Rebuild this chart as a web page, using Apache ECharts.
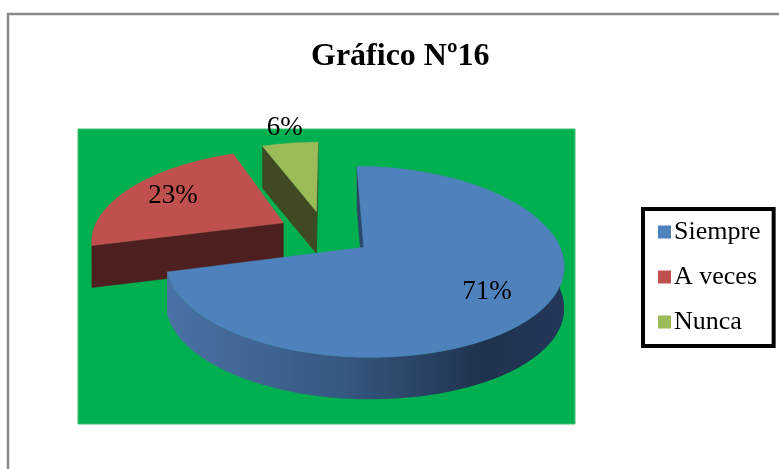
<!DOCTYPE html>
<html>
<head>
<meta charset="utf-8">
<script src="https://cdn.jsdelivr.net/npm/echarts@6/dist/echarts.min.js"></script>
<style>
  html, body { margin: 0; padding: 0; background: #fff; }
  #chart { width: 779px; height: 469px; }
</style>
</head>
<body>
<div id="chart"></div>
<script>
// datos del gráfico
const categories = ['Siempre', 'A veces', 'Nunca'];
const values = [71, 23, 6];

// estilos
const topColors = ['#4F81BD', '#C0504D', '#9BBB59'];
const wallColors = ['#2C4668', '#4E1F1F', '#3F4A22'];
const zOrder = [4, 3, 2];            // el azul va delante
const labelRadius = [0.72, 0.72, 1.3];

// geometría del pastel 3D (centro, radios, perspectiva, grosor, separación)
const CX = 325, CY = 233, RX = 191, RY = 91, KX = 0.18, KY = 0.16, DEPTH = 42, EXPLODE = 0.25;

function rad(d) { return d * Math.PI / 180; }

// u: derecha, v: hacia el observador
function proj(u, v, drop) {
  return [CX + RX * u * (1 + KX * v), CY + RY * v * (1 + KY * v) + drop];
}

function arc(u0, v0, from, to, drop) {
  const pts = [];
  const n = Math.max(2, Math.ceil(Math.abs(to - from) / 1.5));
  for (let i = 0; i <= n; i++) {
    const t = rad(from + (to - from) * i / n);
    pts.push(proj(u0 + Math.sin(t), v0 - Math.cos(t), drop));
  }
  return pts;
}

function area(p) {
  let s = 0;
  for (let i = 0; i < p.length; i++) {
    const a = p[i], b = p[(i + 1) % p.length];
    s += a[0] * b[1] - b[0] * a[1];
  }
  return s;
}

function makeRender(idx) {
  return function (params, api) {
    const total = values.reduce((a, b) => a + b, 0);
    let start = 0;
    for (let j = 0; j < idx; j++) start += values[j];
    const val = api.value(0);
    const a0 = start / total * 360;
    const a1 = (start + val) / total * 360;
    const mid = rad((a0 + a1) / 2);
    const u0 = EXPLODE * Math.sin(mid), v0 = -EXPLODE * Math.cos(mid);

    const children = [];
    const wallStyle = { fill: wallColors[idx], stroke: wallColors[idx], lineWidth: 0.5 };

    // paredes radiales
    const cTop = proj(u0, v0, 0), cBot = proj(u0, v0, DEPTH);
    [[a0, -1], [a1, 1]].forEach(function (w) {
      const t = rad(w[0]);
      const rTop = proj(u0 + Math.sin(t), v0 - Math.cos(t), 0);
      const rBot = proj(u0 + Math.sin(t), v0 - Math.cos(t), DEPTH);
      const quad = [cTop, rTop, rBot, cBot];
      if (area(quad) * w[1] > 0) {
        children.push({ type: 'polygon', shape: { points: quad }, style: wallStyle });
      }
    });

    // pared curva exterior
    const lo = Math.max(a0, 90), hi = Math.min(a1, 270);
    if (hi > lo) {
      const topArc = arc(u0, v0, lo, hi, 0);
      const botArc = arc(u0, v0, lo, hi, DEPTH).reverse();
      let fill = wallColors[idx];
      if (idx === 0) {
        fill = new echarts.graphic.LinearGradient(0, 0, 1, 0, [
          { offset: 0, color: '#4A72A6' },
          { offset: 0.45, color: '#36577F' },
          { offset: 0.8, color: '#1F324E' },
          { offset: 1, color: '#22375A' }
        ]);
      }
      children.push({
        type: 'polygon',
        shape: { points: topArc.concat(botArc) },
        style: { fill: fill }
      });
    }

    // cara superior
    children.push({
      type: 'polygon',
      shape: { points: [cTop].concat(arc(u0, v0, a0, a1, 0)) },
      style: { fill: topColors[idx], stroke: topColors[idx], lineWidth: 0.5 }
    });

    // etiqueta de porcentaje
    const lr = labelRadius[idx];
    const lp = proj(u0 + lr * Math.sin(mid), v0 - lr * Math.cos(mid), 0);
    children.push({
      type: 'text',
      x: lp[0], y: lp[1],
      style: {
        text: Math.round(val / total * 100) + '%',
        font: '27px "Liberation Serif", "Times New Roman", serif',
        fill: '#000',
        align: 'center',
        verticalAlign: 'middle'
      }
    });

    return { type: 'group', children: children };
  };
}

const chart = echarts.init(document.getElementById('chart'));

chart.setOption({
  animation: false,
  title: {
    text: 'Gráfico Nº16',
    left: 306,
    top: 36,
    textStyle: {
      fontFamily: '"Liberation Serif", "Times New Roman", serif',
      fontWeight: 'bold',
      fontSize: 32,
      color: '#000'
    }
  },
  legend: {
    data: categories,
    orient: 'vertical',
    left: 643,
    top: 209,
    padding: [10, 13, 11, 15],
    itemWidth: 13,
    itemHeight: 13,
    itemGap: 19,
    icon: 'rect',
    selectedMode: false,
    backgroundColor: '#fff',
    borderColor: '#000',
    borderWidth: 4,
    textStyle: {
      fontFamily: '"Liberation Serif", "Times New Roman", serif',
      fontSize: 26,
      color: '#000',
      padding: [0, 0, 0, -2]
    }
  },
  graphic: [
    {
      type: 'rect',
      z: -10,
      shape: { x: 8, y: 14, width: 1000, height: 1000 },
      style: { fill: '#fff', stroke: '#8a8a8a', lineWidth: 2.5 }
    },
    {
      type: 'rect',
      z: -9,
      shape: { x: 78, y: 129, width: 497, height: 295 },
      style: { fill: '#00B050', stroke: '#3DC06E', lineWidth: 1 }
    }
  ],
  series: categories.map(function (name, i) {
    return {
      type: 'custom',
      name: name,
      coordinateSystem: 'none',
      z: zOrder[i],
      silent: true,
      itemStyle: { color: topColors[i] },
      data: [values[i]],
      renderItem: makeRender(i)
    };
  })
});
</script>
</body>
</html>
